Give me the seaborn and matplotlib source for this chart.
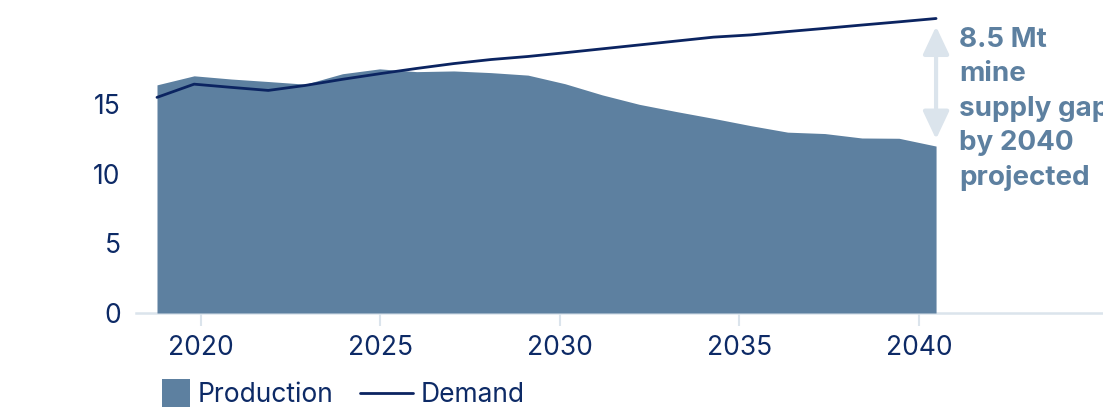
import numpy as np
import pandas as pd
import matplotlib
matplotlib.use("Agg")
import matplotlib.pyplot as plt
from matplotlib.patches import Patch, Rectangle, FancyArrowPatch
from matplotlib.lines import Line2D
from matplotlib.legend_handler import HandlerPatch
import seaborn as sns

years = list(range(2019, 2041))
production = [16.4, 17.05, 16.82, 16.64, 16.45, 17.2, 17.55, 17.35, 17.4, 17.28, 17.1,
              16.48, 15.68, 15.0, 14.48, 13.99, 13.47, 13.0, 12.9, 12.58, 12.56, 12.0]
demand = [15.5, 16.45, 16.22, 16.0, 16.36, 16.8, 17.2, 17.58, 17.93, 18.22, 18.44,
          18.71, 18.99, 19.27, 19.55, 19.83, 19.99, 20.23, 20.46, 20.7, 20.93, 21.17]
tick_labels = ["2020", "2025", "2030", "2035", "2040"]
y_ticks = [0, 5, 10, 15]
series_names = ["Production", "Demand"]
annotation = "8.5 Mt\nmine\nsupply gap\nby 2040\nprojected"

df = pd.DataFrame({"year": years, "production": production, "demand": demand})

FILL = "#5d80a0"
LINE = "#0b2461"
TEXT = "#0d2a66"
LIGHT = "#dbe4ec"

sns.set_style("white")
plt.rcParams["font.family"] = ["Inter", "DejaVu Sans"]

fig = plt.figure(figsize=(11.03, 4.11), dpi=100)
ax = fig.add_axes([136 / 1103, 98 / 411, 967 / 1103, 313 / 411])

ax.fill_between(df["year"], 0, df["production"], color=FILL, linewidth=0, zorder=1)
sns.lineplot(data=df, x="year", y="demand", ax=ax, color=LINE, linewidth=2.0, zorder=3)

ax.set_xlim(2018.434, 2044.5)
ax.set_ylim(0, 22.5)
ax.set_xlabel("")
ax.set_ylabel("")

ax.set_xticks(np.linspace(2020.18, 2039.54, len(tick_labels)))
ax.set_xticklabels(tick_labels)
ax.set_yticks(y_ticks)
ax.set_yticklabels([str(v) for v in y_ticks])
ax.tick_params(axis="x", length=9, width=1.5, color=LIGHT, pad=7, labelsize=19, labelcolor=TEXT, direction="out")
ax.tick_params(axis="y", length=0, pad=11, labelsize=19, labelcolor=TEXT)
ax.xaxis.set_ticks_position("bottom")

for s in ["top", "right", "left"]:
    ax.spines[s].set_visible(False)
ax.spines["bottom"].set_color(LIGHT)
ax.spines["bottom"].set_linewidth(1.8)
ax.spines["bottom"].set_zorder(0)

# gap arrow
arr = FancyArrowPatch((years[-1], 20.8), (years[-1], 12.3),
                      arrowstyle="<|-|>,head_length=0.85,head_width=0.4",
                      mutation_scale=20, color=LIGHT, linewidth=3, zorder=2)
ax.add_patch(arr)

fig.text(959 / 1103, 1 - 27 / 411, annotation, ha="left", va="top", fontsize=20,
         fontweight="bold", color=FILL, linespacing=1.42)


def square_patch(legend, orig_handle, xdescent, ydescent, width, height, fontsize):
    s = 1.06 * fontsize
    return Rectangle((-xdescent + width - s, -ydescent + height / 2 - s / 2), s, s)


handles = [Patch(facecolor=FILL, edgecolor="none"),
           Line2D([0], [0], color=LINE, linewidth=2.0)]
fig.legend(handles, series_names, loc="lower left", bbox_to_anchor=(132 / 1103, -0.006),
           ncol=2, frameon=False, fontsize=19, labelcolor=TEXT, handlelength=2.0,
           handletextpad=0.3, columnspacing=1.0, borderaxespad=0, borderpad=0.2,
           handler_map={Patch: HandlerPatch(patch_func=square_patch)})

fig.savefig("out.png", dpi=100)
